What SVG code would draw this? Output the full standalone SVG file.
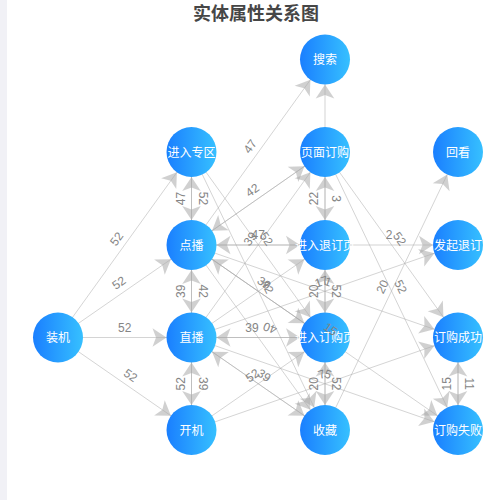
<svg xmlns="http://www.w3.org/2000/svg" width="500" height="500" viewBox="0 0 500 500">
<style>
.e{stroke:#aaa;stroke-opacity:0.5;stroke-width:1;fill:none}
.el{font-family:"Liberation Sans","Noto Sans",sans-serif;font-size:12px;fill:#858585;text-anchor:middle}
.n circle{fill:url(#ng)}
.n text{font-family:"Noto Sans CJK SC","Noto Sans",sans-serif;font-size:12px;fill:#fff;text-anchor:middle}
.title{font-family:"Noto Sans CJK SC","Noto Sans",sans-serif;font-size:18px;font-weight:bold;fill:#464646;text-anchor:middle}
</style>
<defs>
<linearGradient id="ng" x1="0" y1="0" x2="1" y2="0">
<stop offset="0" stop-color="#1a7fff"/>
<stop offset="1" stop-color="#36c0ff"/>
</linearGradient>
<marker id="arr" markerUnits="userSpaceOnUse" refX="25" refY="0" markerWidth="60" markerHeight="30" orient="auto" overflow="visible">
<path d="M0,0 L-14,-9.3 L-10.5,0 L-14,9.3 Z" fill="#aaa" fill-opacity="0.55"/>
</marker>
</defs>
<rect x="0" y="0" width="500" height="500" fill="#fff"/>
<rect x="0" y="0" width="7" height="500" fill="#f1f1f6"/>
<text class="title" x="256" y="19.5">实体属性关系图</text>
<g id="connectors">
<line class="e" marker-end="url(#arr)" x1="58" y1="337.5" x2="191.5" y2="152"/>
<line class="e" marker-end="url(#arr)" x1="58" y1="337.5" x2="191.5" y2="245"/>
<line class="e" marker-end="url(#arr)" x1="58" y1="337.5" x2="191.5" y2="337.5"/>
<line class="e" marker-end="url(#arr)" x1="58" y1="337.5" x2="191.5" y2="430"/>
<line class="e" marker-end="url(#arr)" x1="191.5" y1="245" x2="191.5" y2="152"/>
<line class="e" marker-end="url(#arr)" x1="191.5" y1="152" x2="191.5" y2="245"/>
<line class="e" marker-end="url(#arr)" x1="191.5" y1="245" x2="325" y2="59.5"/>
<line class="e" marker-end="url(#arr)" x1="191.5" y1="245" x2="325" y2="152"/>
<line class="e" marker-end="url(#arr)" x1="325" y1="152" x2="191.5" y2="245"/>
<line class="e" marker-end="url(#arr)" x1="325" y1="152" x2="325" y2="59.5"/>
<line class="e" marker-end="url(#arr)" x1="325" y1="245" x2="325" y2="152"/>
<line class="e" marker-end="url(#arr)" x1="325" y1="152" x2="325" y2="245"/>
<line class="e" marker-end="url(#arr)" x1="325" y1="337.5" x2="325" y2="245"/>
<line class="e" marker-end="url(#arr)" x1="325" y1="245" x2="325" y2="337.5"/>
<line class="e" marker-end="url(#arr)" x1="325" y1="430" x2="325" y2="337.5"/>
<line class="e" marker-end="url(#arr)" x1="325" y1="337.5" x2="325" y2="430"/>
<line class="e" marker-end="url(#arr)" x1="191.5" y1="337.5" x2="191.5" y2="245"/>
<line class="e" marker-end="url(#arr)" x1="191.5" y1="245" x2="191.5" y2="337.5"/>
<line class="e" marker-end="url(#arr)" x1="191.5" y1="430" x2="191.5" y2="337.5"/>
<line class="e" marker-end="url(#arr)" x1="191.5" y1="337.5" x2="191.5" y2="430"/>
<line class="e" marker-end="url(#arr)" x1="458" y1="430" x2="458" y2="337.5"/>
<line class="e" marker-end="url(#arr)" x1="458" y1="337.5" x2="458" y2="430"/>
<line class="e" marker-end="url(#arr)" x1="325" y1="245" x2="458" y2="245"/>
<line class="e" marker-end="url(#arr)" x1="325" y1="430" x2="458" y2="152"/>
<line class="e" marker-end="url(#arr)" x1="325" y1="152" x2="458" y2="430"/>
<line class="e" marker-end="url(#arr)" x1="325" y1="152" x2="458" y2="337.5"/>
<line class="e" marker-end="url(#arr)" x1="191.5" y1="337.5" x2="325" y2="337.5"/>
<line class="e" marker-end="url(#arr)" x1="325" y1="337.5" x2="191.5" y2="337.5"/>
<line class="e" marker-end="url(#arr)" x1="191.5" y1="337.5" x2="325" y2="152"/>
<line class="e" marker-end="url(#arr)" x1="191.5" y1="245" x2="325" y2="245"/>
<line class="e" marker-end="url(#arr)" x1="325" y1="245" x2="191.5" y2="245"/>
<line class="e" marker-end="url(#arr)" x1="191.5" y1="152" x2="325" y2="337.5"/>
<line class="e" marker-end="url(#arr)" x1="191.5" y1="152" x2="325" y2="430"/>
<line class="e" marker-end="url(#arr)" x1="191.5" y1="245" x2="325" y2="337.5"/>
<line class="e" marker-end="url(#arr)" x1="325" y1="337.5" x2="191.5" y2="245"/>
<line class="e" marker-end="url(#arr)" x1="191.5" y1="337.5" x2="325" y2="245"/>
<line class="e" marker-end="url(#arr)" x1="191.5" y1="430" x2="325" y2="337.5"/>
<line class="e" marker-end="url(#arr)" x1="191.5" y1="337.5" x2="325" y2="430"/>
<line class="e" marker-end="url(#arr)" x1="325" y1="430" x2="191.5" y2="337.5"/>
<line class="e" marker-end="url(#arr)" x1="191.5" y1="245" x2="325" y2="430"/>
<line class="e" marker-end="url(#arr)" x1="191.5" y1="337.5" x2="458" y2="245"/>
<line class="e" marker-end="url(#arr)" x1="191.5" y1="245" x2="458" y2="337.5"/>
<line class="e" marker-end="url(#arr)" x1="191.5" y1="337.5" x2="458" y2="430"/>
<line class="e" marker-end="url(#arr)" x1="191.5" y1="430" x2="458" y2="337.5"/>
<line class="e" marker-end="url(#arr)" x1="191.5" y1="245" x2="458" y2="430"/>
</g>
<g id="nodes">
<g id="n-sousuo" class="n"><circle cx="325" cy="59.5" r="25"/><text x="325" y="64">搜索</text></g>
<g id="n-zhuanqu" class="n"><circle cx="191.5" cy="152" r="25"/><text x="191.5" y="156.5">进入专区</text></g>
<g id="n-yemian" class="n"><circle cx="325" cy="152" r="25"/><text x="325" y="156.5">页面订购</text></g>
<g id="n-huikan" class="n"><circle cx="458" cy="152" r="25"/><text x="458" y="156.5">回看</text></g>
<g id="n-dianbo" class="n"><circle cx="191.5" cy="245" r="25"/><text x="191.5" y="249.5">点播</text></g>
<g id="n-tuidingye" class="n"><circle cx="325" cy="245" r="25"/><text x="325" y="249.5">进入退订页</text></g>
<g id="n-faqi" class="n"><circle cx="458" cy="245" r="25"/><text x="458" y="249.5">发起退订</text></g>
<g id="n-zhuangji" class="n"><circle cx="58" cy="337.5" r="25"/><text x="58" y="342">装机</text></g>
<g id="n-zhibo" class="n"><circle cx="191.5" cy="337.5" r="25"/><text x="191.5" y="342">直播</text></g>
<g id="n-dinggouye" class="n"><circle cx="325" cy="337.5" r="25"/><text x="325" y="342">进入订购页</text></g>
<g id="n-chenggong" class="n"><circle cx="458" cy="337.5" r="25"/><text x="458" y="342">订购成功</text></g>
<g id="n-kaiji" class="n"><circle cx="191.5" cy="430" r="25"/><text x="191.5" y="434.5">开机</text></g>
<g id="n-shoucang" class="n"><circle cx="325" cy="430" r="25"/><text x="325" y="434.5">收藏</text></g>
<g id="n-shibai" class="n"><circle cx="458" cy="430" r="25"/><text x="458" y="434.5">订购失败</text></g>
</g>
<g id="edge-labels">
<text class="el" y="-6" transform="translate(124.75,244.75) rotate(-54.3)">52</text>
<text class="el" y="-6" transform="translate(124.75,291.25) rotate(-34.7)">52</text>
<text class="el" y="-6" transform="translate(124.75,337.5)">52</text>
<text class="el" y="-6" transform="translate(124.75,383.75) rotate(34.7)">52</text>
<text class="el" y="-7" transform="translate(191.5,198.5) rotate(-90)">47</text>
<text class="el" y="-7" transform="translate(191.5,198.5) rotate(90)">52</text>
<text class="el" y="-6" transform="translate(258.25,152.25) rotate(-54.2)">47</text>
<text class="el" y="-6" transform="translate(258.25,198.5) rotate(-34.8)">42</text>
<text class="el" y="-7" transform="translate(325,198.5) rotate(-90)">22</text>
<text class="el" y="-7" transform="translate(325,198.5) rotate(90)">3</text>
<text class="el" y="-7" transform="translate(325,291.25) rotate(-90)">20</text>
<text class="el" y="-7" transform="translate(325,291.25) rotate(90)">52</text>
<text class="el" y="-7" transform="translate(325,383.75) rotate(-90)">20</text>
<text class="el" y="-7" transform="translate(325,383.75) rotate(90)">52</text>
<text class="el" y="-7" transform="translate(191.5,291.25) rotate(-90)">39</text>
<text class="el" y="-7" transform="translate(191.5,291.25) rotate(90)">42</text>
<text class="el" y="-7" transform="translate(191.5,383.75) rotate(-90)">52</text>
<text class="el" y="-7" transform="translate(191.5,383.75) rotate(90)">39</text>
<text class="el" y="-7" transform="translate(458,383.75) rotate(-90)">15</text>
<text class="el" y="-7" transform="translate(458,383.75) rotate(90)">11</text>
<text class="el" y="-6" transform="translate(389,245)">2</text>
<text class="el" y="-6" transform="translate(391.5,291) rotate(-64.3)">20</text>
<text class="el" y="-6" transform="translate(391.5,291) rotate(64.3)">52</text>
<text class="el" y="-6" transform="translate(391.5,244.75) rotate(54.2)">52</text>
<text class="el" y="-6" transform="translate(252,337.5)">39</text>
<text class="el" y="4" transform="translate(270,328) rotate(200)">40</text>
<text class="el" y="-6" transform="translate(258.25,244.75) rotate(-54.2)">39</text>
<text class="el" y="-6" transform="translate(258.25,245)">47</text>
<text class="el" y="-6" transform="translate(258.25,244.75) rotate(54.2)">52</text>
<text class="el" y="-6" transform="translate(258.25,291) rotate(64.3)">42</text>
<text class="el" y="-6" transform="translate(258.25,291.25) rotate(34.8)">39</text>
<text class="el" y="-6" transform="translate(258.25,383.75) rotate(-34.8)">52</text>
<text class="el" y="-6" transform="translate(258.25,383.75) rotate(34.8)">39</text>
<text class="el" y="-6" transform="translate(324.75,291.25) rotate(-19.1)">17</text>
<text class="el" y="-6" transform="translate(324.75,291.25) rotate(19.1)">1</text>
<text class="el" y="-6" transform="translate(324.75,383.75) rotate(19.1)">5</text>
<text class="el" y="-6" transform="translate(324.75,383.75) rotate(-19.1)">7</text>
<text class="el" y="-6" transform="translate(324.75,337.5) rotate(34.8)">15</text>
</g>
</svg>
